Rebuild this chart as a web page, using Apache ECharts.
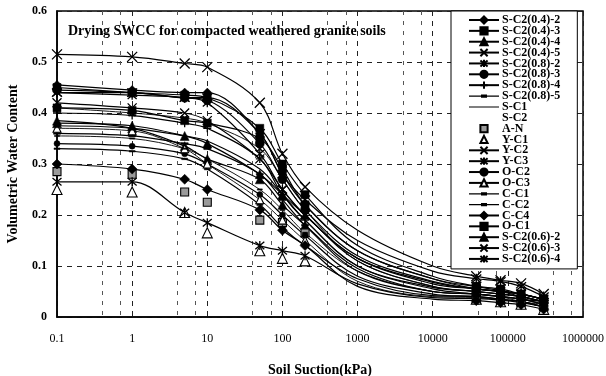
<!DOCTYPE html>
<html>
<head>
<meta charset="utf-8">
<script src="https://cdn.jsdelivr.net/npm/echarts@6/dist/echarts.min.js"></script>
<style>
  html, body { margin: 0; padding: 0; background: #fff; }
  #chart { width: 606px; height: 376px; }
</style>
</head>
<body>
<div id="chart"></div>
<script>
// Suction steps (kPa); 1000 and 10000 are fitted-curve points without a marker
const SUCTION = [0.1, 1, 5, 10, 50, 100, 200, 1000, 10000, 38000, 80000, 150000, 300000];
const FIT_ONLY_SUCTION = [1000, 10000];

const X_TICK_LABELS = ['0.1', '1', '10', '100', '1000', '10000', '100000', '1000000'];
const Y_TICK_LABELS = ['0', '0.1', '0.2', '0.3', '0.4', '0.5', '0.6'];

const SERIES_NAMES = [
  'S-C2(0.4)-2', 'S-C2(0.4)-3', 'S-C2(0.4)-4', 'S-C2(0.4)-5',
  'S-C2(0.8)-2', 'S-C2(0.8)-3', 'S-C2(0.8)-4', 'S-C2(0.8)-5',
  'S-C1', 'S-C2', 'A-N', 'Y-C1', 'Y-C2', 'Y-C3', 'O-C2', 'O-C3',
  'C-C1', 'C-C2', 'C-C4', 'O-C1', 'S-C2(0.6)-2', 'S-C2(0.6)-3', 'S-C2(0.6)-4'
];

// Volumetric water content at each suction step
const sc2_04_2 = [0.455, 0.445, 0.440, 0.440, 0.360, 0.280, 0.220, 0.130, 0.075, 0.055, 0.050, 0.045, 0.035];
const sc2_04_3 = [0.450, 0.440, 0.435, 0.430, 0.370, 0.300, 0.240, 0.140, 0.080, 0.060, 0.052, 0.045, 0.035];
const sc2_04_4 = [0.385, 0.370, 0.335, 0.310, 0.270, 0.220, 0.180, 0.095, 0.050, 0.045, 0.040, 0.035, 0.025];
const sc2_04_5 = [0.410, 0.400, 0.390, 0.380, 0.330, 0.270, 0.210, 0.110, 0.060, 0.050, 0.045, 0.040, 0.030];
const sc2_08_2 = [0.440, 0.435, 0.430, 0.420, 0.320, 0.250, 0.200, 0.115, 0.068, 0.055, 0.050, 0.045, 0.035];
const sc2_08_3 = [0.445, 0.440, 0.430, 0.425, 0.340, 0.270, 0.210, 0.120, 0.070, 0.055, 0.050, 0.040, 0.030];
const sc2_08_4 = [0.400, 0.395, 0.380, 0.370, 0.310, 0.240, 0.190, 0.100, 0.058, 0.050, 0.045, 0.040, 0.030];
const sc2_08_5 = [0.360, 0.355, 0.340, 0.330, 0.280, 0.230, 0.180, 0.090, 0.050, 0.045, 0.040, 0.035, 0.025];
const sc1      = [0.375, 0.370, 0.355, 0.345, 0.290, 0.240, 0.190, 0.100, 0.055, 0.045, 0.040, 0.035, 0.030];
const sc2      = [0.345, 0.340, 0.325, 0.315, 0.260, 0.215, 0.170, 0.085, 0.048, 0.042, 0.038, 0.032, 0.022];
const an       = [0.285, 0.280, 0.245, 0.225, 0.190, 0.185, 0.165, null, null, 0.040, 0.035, 0.030, 0.020];
const yc1      = [0.250, 0.245, 0.205, 0.165, 0.130, 0.115, 0.110, null, null, 0.035, 0.030, 0.025, 0.015];
const yc2      = [0.515, 0.510, 0.497, 0.490, 0.420, 0.320, 0.255, 0.170, 0.100, 0.080, 0.072, 0.066, 0.045];
const yc3      = [0.265, 0.265, 0.205, 0.185, 0.140, 0.130, 0.120, 0.065, 0.038, 0.036, 0.033, 0.028, 0.020];
const oc2      = [0.340, 0.335, 0.320, 0.300, 0.240, 0.200, 0.160, 0.080, 0.045, 0.040, 0.035, 0.030, 0.020];
const oc3      = [0.370, 0.365, 0.330, 0.300, 0.230, 0.190, 0.150, 0.070, 0.040, 0.038, 0.034, 0.030, 0.020];
const cc1      = [0.330, 0.325, 0.310, 0.290, 0.220, 0.175, 0.140, 0.075, 0.042, 0.040, 0.035, 0.030, 0.020];
const cc2      = [0.355, 0.350, 0.330, 0.310, 0.250, 0.210, 0.165, 0.090, 0.050, 0.045, 0.040, 0.030, 0.025];
const cc4      = [0.300, 0.290, 0.270, 0.250, 0.210, 0.170, 0.140, 0.060, 0.035, 0.032, 0.028, 0.024, 0.015];
const oc1      = [0.410, 0.405, 0.385, 0.380, 0.350, 0.290, 0.220, 0.130, 0.075, 0.060, 0.055, 0.045, 0.035];
const sc2_06_2 = [0.380, 0.375, 0.355, 0.340, 0.280, 0.240, 0.200, 0.110, 0.060, 0.050, 0.045, 0.040, 0.030];
const sc2_06_3 = [0.420, 0.410, 0.400, 0.385, 0.310, 0.250, 0.200, 0.115, 0.065, 0.055, 0.050, 0.045, 0.035];
const sc2_06_4 = [0.440, 0.440, 0.430, 0.430, 0.360, 0.280, 0.230, 0.150, 0.090, 0.075, 0.070, 0.060, 0.040];

const SERIES_VALUES = [
  sc2_04_2, sc2_04_3, sc2_04_4, sc2_04_5, sc2_08_2, sc2_08_3, sc2_08_4, sc2_08_5,
  sc1, sc2, an, yc1, yc2, yc3, oc2, oc3, cc1, cc2, cc4, oc1, sc2_06_2, sc2_06_3, sc2_06_4
];

// Marker shapes
const X_MARK = 'path://M0,0L10,10M10,0L0,10';
const STAR_MARK = 'path://M0,0L10,10M10,0L0,10M5,-1L5,11';
const PLUS_MARK = 'path://M5,0L5,10M0,5L10,5';
const DASH_MARK = 'path://M0,0L10,0L10,2.5L0,2.5Z';

// Legend keys drawn as a 30x9 box: a line with an optional short dash in the middle
const KEY_LINE = 'path://M0,0L0.01,0L0,0.01Z M0,4L30,4L30,5.2L0,5.2Z M29.99,9L30,9L30,8.99Z';
const KEY_LINE_DASH = 'path://M0,0L0.01,0L0,0.01Z M0,4L30,4L30,5.2L0,5.2Z M12,3L18,3L18,6.2L12,6.2Z M29.99,9L30,9L30,8.99Z';

// Drawing style for each series, in legend order
const STYLES = [
  { symbol: 'diamond', size: 9 },
  { symbol: 'rect', size: 8 },
  { symbol: 'triangle', size: 9 },
  { symbol: X_MARK, size: 6, stroke: true, thin: true },
  { symbol: STAR_MARK, size: 9, stroke: true },
  { symbol: 'circle', size: 9 },
  { symbol: PLUS_MARK, size: 8, stroke: true },
  { symbol: DASH_MARK, size: 7, keep: true, key: KEY_LINE_DASH },
  { symbol: 'none', key: KEY_LINE },
  { symbol: 'none', hiddenKey: true },
  { symbol: 'rect', size: 8, fill: '#9a9a9a', noLine: true },
  { symbol: 'triangle', size: 10, fill: '#fff', noLine: true },
  { symbol: X_MARK, size: 10, stroke: true },
  { symbol: STAR_MARK, size: 9, stroke: true },
  { symbol: 'circle', size: 6 },
  { symbol: 'triangle', size: 8, fill: '#fff', thin: true },
  { symbol: DASH_MARK, size: 6, keep: true, key: KEY_LINE_DASH },
  { symbol: DASH_MARK, size: 5, keep: true, thin: true, key: KEY_LINE_DASH },
  { symbol: 'diamond', size: 10 },
  { symbol: 'rect', size: 8 },
  { symbol: 'triangle', size: 9 },
  { symbol: X_MARK, size: 9, stroke: true },
  { symbol: STAR_MARK, size: 10, stroke: true }
];

const SERIF = '"Liberation Serif", "DejaVu Serif", serif';

const series = SERIES_NAMES.map((name, k) => {
  const st = STYLES[k];
  const vals = SERIES_VALUES[k];
  const data = [];
  SUCTION.forEach((s, i) => {
    if (vals[i] == null) return;
    const fitOnly = FIT_ONLY_SUCTION.indexOf(s) >= 0;
    const item = { value: [s, vals[i]] };
    if (fitOnly) item.symbol = 'none';
    data.push(item);
  });
  return {
    type: 'line',
    name,
    data,
    symbol: st.symbol,
    symbolSize: st.size || 6,
    symbolKeepAspect: !!st.keep,
    smooth: 0.35,
    connectNulls: true,
    showAllSymbol: true,
    itemStyle: {
      color: st.fill || '#000',
      borderColor: '#000',
      borderWidth: st.stroke ? 1.3 : (st.fill ? 1.1 : 0.5)
    },
    lineStyle: {
      color: '#000',
      width: st.thin ? 0.9 : 1.2,
      opacity: (st.noLine || st.hiddenKey) ? 0 : 1
    },
    emphasis: { disabled: true },
    animation: false,
    z: 3
  };
});

const legendData = SERIES_NAMES.map((name, k) => {
  const st = STYLES[k];
  if (st.hiddenKey) return { name, itemStyle: { opacity: 0 }, lineStyle: { opacity: 0 } };
  if (st.key) return { name, icon: st.key, itemStyle: { color: '#000', borderWidth: 0 } };
  return { name };
});

const chart = echarts.init(document.getElementById('chart'), null, { renderer: 'canvas' });
chart.setOption({
  backgroundColor: '#fff',
  animation: false,
  grid: {
    left: 57, right: 23, top: 11, bottom: 59,
    outerBoundsMode: 'none',
    containLabel: false,
    show: true, borderColor: '#000', borderWidth: 1.5, backgroundColor: 'transparent'
  },
  graphic: [{
    type: 'text',
    left: 68, top: 24,
    style: {
      text: 'Drying SWCC for compacted weathered granite soils',
      font: 'bold 14px ' + SERIF,
      fill: '#000'
    },
    z: 10
  }],
  legend: {
    orient: 'vertical',
    left: 451, top: 11,
    padding: [3, 17, 4, 17],
    backgroundColor: '#fff',
    borderColor: '#000',
    borderWidth: 1,
    itemWidth: 30,
    itemHeight: 9,
    itemGap: -1.14,
    selectedMode: false,
    data: legendData,
    textStyle: {
      fontFamily: SERIF, fontWeight: 'bold', fontSize: 12,
      color: '#000', padding: [0, 0, 0, -2]
    }
  },
  xAxis: {
    type: 'log',
    logBase: 10,
    min: 0.1,
    max: 1000000,
    name: 'Soil Suction(kPa)',
    nameLocation: 'middle',
    nameGap: 46,
    nameTextStyle: { fontFamily: SERIF, fontWeight: 'bold', fontSize: 14, color: '#000' },
    axisLine: { show: true, lineStyle: { color: '#000', width: 1.5 } },
    axisTick: { show: false },
    axisLabel: {
      color: '#000', fontFamily: SERIF, fontSize: 12, margin: 16,
      formatter: v => X_TICK_LABELS[Math.round(Math.log10(v)) + 1]
    },
    splitLine: { show: true, lineStyle: { color: '#222', type: [5, 5], width: 1 } },
    minorTick: { show: false, splitNumber: 3 },
    minorSplitLine: { show: true, lineStyle: { color: '#555', type: [4, 6], width: 1 } }
  },
  yAxis: {
    type: 'value',
    min: 0,
    max: 0.6,
    interval: 0.1,
    name: 'Volumetric Water Content',
    nameLocation: 'middle',
    nameGap: 37,
    nameTextStyle: { fontFamily: SERIF, fontWeight: 'bold', fontSize: 14, color: '#000' },
    axisLine: { show: true, lineStyle: { color: '#000', width: 1.5 } },
    axisTick: { show: false },
    axisLabel: {
      color: '#000', fontFamily: SERIF, fontWeight: 'bold', fontSize: 12, margin: 10,
      formatter: v => Y_TICK_LABELS[Math.round(v * 10)]
    },
    splitLine: { show: true, lineStyle: { color: '#222', type: [5, 5], width: 1 } }
  },
  series
});
</script>
</body>
</html>
